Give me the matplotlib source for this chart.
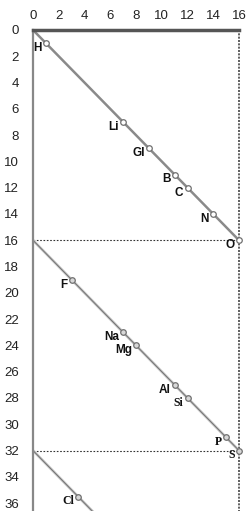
import matplotlib
matplotlib.use("Agg")
import matplotlib.pyplot as plt

# Atomic weights and their position around the 16-unit cylinder (telluric screw)
elements = ['H', 'Li', 'Gl', 'B', 'C', 'N', 'O', 'F', 'Na', 'Mg', 'Al', 'Si', 'P', 'S', 'Cl']
weights = [1, 7, 9, 11, 12, 14, 16, 19, 23, 24, 27, 28, 31, 32, 35.5]
x_pos = [1, 7, 9, 11, 12, 14, 16, 3, 7, 8, 11, 12, 15, 16, 3.5]
turn_starts = [0, 16, 32]
turn_length = 16
x_ticks = [0, 2, 4, 6, 8, 10, 12, 14, 16]
y_ticks = list(range(0, 37, 2))

serif_labels = {'Si', 'P', 'S', 'Cl'}

fig = plt.figure(figsize=(2.47, 5.11), dpi=100)
ax = fig.add_axes([33/247, 0, (239-33)/247, 1 - 30/511])

ymax = 36.6
ax.set_xlim(0, 16)
ax.set_ylim(ymax, 0)

# helix turns
for i, s in enumerate(turn_starts):
    if i == 0:
        ax.plot([0, turn_length], [s, s + turn_length], color='#8a8a8a', lw=1.8, zorder=2)
    else:
        ax.plot([0, turn_length], [s, s + turn_length], color='#c8c8c8', lw=2.0, zorder=2)
        ax.plot([0, turn_length], [s, s + turn_length], color='#707070', lw=0.7, zorder=2)
    if s > 0:
        ax.plot([0, 16], [s, s], color='#333333', lw=0.8, ls=(0, (1.5, 1.5)), zorder=1)

# right vertical dashed line
ax.plot([16, 16], [0, ymax], color='#444444', lw=1.2, ls=(0, (1.2, 0.8)), zorder=1, clip_on=False)

# markers and labels
for xv, w, name in zip(x_pos, weights, elements):
    ax.plot(xv, w, 'o', ms=4, mfc='white' if w <= 16 else '#d8d8d8', mec='#707070', mew=0.9,
            zorder=4, clip_on=False)
    if name in serif_labels:
        fam, fw = 'Liberation Serif', 'bold'
    else:
        fam, fw = 'Liberation Sans', 'bold'
    ax.annotate(name, (xv, w), xytext=(-3, -3.5), textcoords='offset points',
                ha='right', va='center', fontsize=8.5, fontweight=fw,
                family=fam, color='#111111', zorder=5)

ax.xaxis.tick_top()
ax.set_xticks(x_ticks)
ax.set_yticks(y_ticks)
ax.tick_params(length=0, labelsize=9.5, colors='#222222')
ax.tick_params(axis='y', pad=10)
ax.tick_params(axis='x', pad=6)
for lab in ax.get_xticklabels() + ax.get_yticklabels():
    lab.set_family('Liberation Sans')

ax.spines['bottom'].set_visible(False)
ax.spines['right'].set_visible(False)
ax.spines['top'].set_color('#555555')
ax.spines['top'].set_linewidth(2.5)
ax.spines['left'].set_color('#888888')
ax.spines['left'].set_linewidth(1.6)

fig.savefig('out.png', dpi=100)
